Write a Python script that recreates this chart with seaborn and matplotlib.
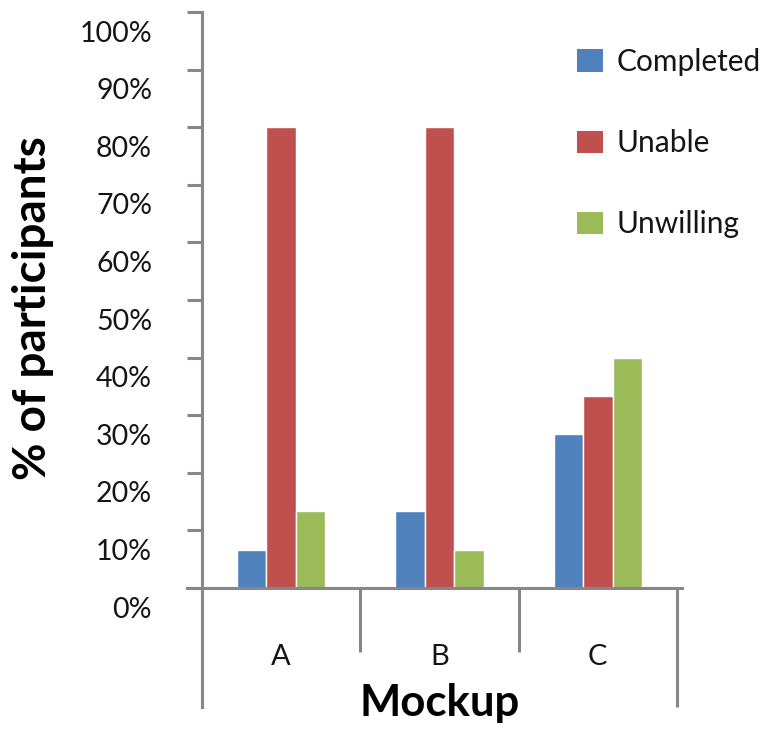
import matplotlib
matplotlib.use("Agg")
import matplotlib.pyplot as plt
import matplotlib.transforms as mtransforms
from matplotlib.patches import Patch
import seaborn as sns
import pandas as pd

# Share of participants (%) per mockup and outcome
mockups = ["A", "B", "C"]
outcomes = ["Completed", "Unable", "Unwilling"]
completed = [6.67, 13.33, 26.67]
unable = [80.0, 80.0, 33.33]
unwilling = [13.33, 6.67, 40.0]
colors = ["#4F81BD", "#C0504D", "#9BBB59"]
y_ticks = list(range(0, 101, 10))
y_tick_labels = [f"{v}%" for v in y_ticks]

df = pd.DataFrame({
    "Mockup": mockups * 3,
    "Outcome": [o for o in outcomes for _ in mockups],
    "pct": completed + unable + unwilling,
})

sns.set_style("white")
plt.rcParams["font.family"] = ["Lato", "DejaVu Sans"]

W, H = 768, 732
fig = plt.figure(figsize=(W / 100, H / 100), dpi=100)
ax = fig.add_axes([202 / W, (H - 588) / H, 475 / W, 576 / H])

sns.barplot(data=df, x="Mockup", y="pct", hue="Outcome", order=mockups,
            hue_order=outcomes, palette=colors, saturation=1, width=0.56,
            edgecolor="white", linewidth=1.0, legend=False, ax=ax)

ax.set_xlim(-0.5, 2.5)
ax.set_ylim(0, 100)

axis_grey = "#878787"
text_col = "#151515"
lw = 2.2
for side in ["top", "right"]:
    ax.spines[side].set_visible(False)
ax.spines["left"].set_color(axis_grey)
ax.spines["left"].set_linewidth(lw)
ax.spines["left"].set_bounds(-20.7, 100)
ax.spines["bottom"].set_color(axis_grey)
ax.spines["bottom"].set_linewidth(lw)
ax.spines["bottom"].set_bounds(-0.595, 2.532)

# category dividers below the x axis
ax.vlines([0.5, 1.5], -11.1, 0, color=axis_grey, lw=lw, clip_on=False)
ax.vlines([2.5], -20.7, 0, color=axis_grey, lw=lw, clip_on=False)

ax.set_yticks(y_ticks)
ax.set_yticklabels(y_tick_labels)
ax.tick_params(axis="y", direction="out", length=11, width=lw, color=axis_grey,
               pad=25, labelsize=20.5, labelcolor=text_col, left=True)
shift = mtransforms.ScaledTranslation(0, -0.19, fig.dpi_scale_trans)
for lab in ax.get_yticklabels():
    lab.set_transform(lab.get_transform() + shift)

ax.tick_params(axis="x", length=0, pad=40, labelsize=21, labelcolor=text_col)

ax.set_xlabel("Mockup", fontsize=31.5, fontweight="bold", color="black")
ax.xaxis.set_label_coords(0.5, -0.165)
ax.set_ylabel("% of participants", fontsize=33, fontweight="bold", color="black")
ax.yaxis.set_label_coords(-0.312, 0.486)

handles = [Patch(facecolor=c, edgecolor="none") for c in colors]
fig.legend(handles, outcomes, loc="upper left",
           bbox_to_anchor=(577 / W, (H - 48) / H), frameon=False,
           fontsize=21.5, handlelength=0.88, handleheight=0.78, handletextpad=0.45,
           labelspacing=1.78, borderpad=0, borderaxespad=0, labelcolor=text_col)

fig.savefig("out.png", dpi=100, facecolor="white")
